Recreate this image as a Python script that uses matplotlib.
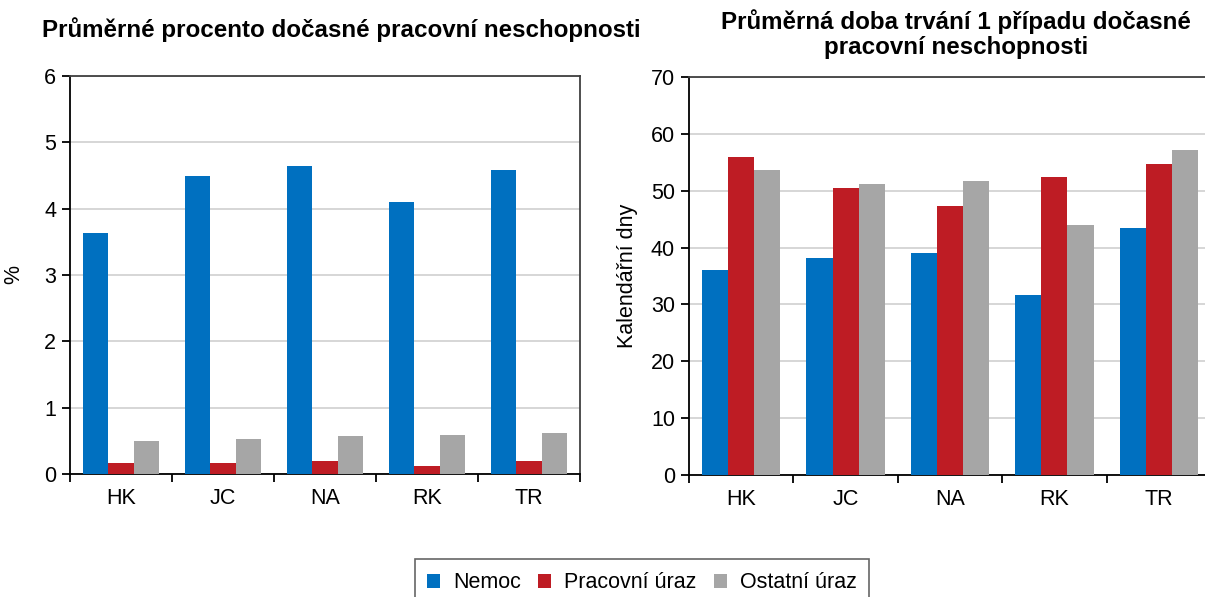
import numpy as np
import matplotlib
matplotlib.use("Agg")
import matplotlib.pyplot as plt
from matplotlib.patches import Patch

plt.rcParams['font.family'] = ['Liberation Sans', 'DejaVu Sans']

# data
regions = ["HK", "JC", "NA", "RK", "TR"]
series = ["Nemoc", "Pracovní úraz", "Ostatní úraz"]
colors = ["#0070C0", "#BE1C24", "#A6A6A6"]

pct_nemoc = [3.63, 4.49, 4.65, 4.10, 4.59]
pct_pracovni = [0.16, 0.17, 0.20, 0.12, 0.20]
pct_ostatni = [0.49, 0.53, 0.57, 0.59, 0.62]

days_nemoc = [36.0, 38.1, 39.1, 31.7, 43.5]
days_pracovni = [56.0, 50.5, 47.3, 52.4, 54.7]
days_ostatni = [53.6, 51.1, 51.7, 44.0, 57.1]

title_left = "Průměrné procento dočasné pracovní neschopnosti"
title_right = "Průměrná doba trvání 1 případu dočasné\npracovní neschopnosti"

FS = 15.5

fig = plt.figure(figsize=(12.05, 5.97), dpi=100)
ax1 = fig.add_axes([70 / 1205, 123 / 597, 510 / 1205, 398 / 597])
ax2 = fig.add_axes([689 / 1205, 122 / 597, 522 / 1205, 398 / 597])


def draw_bars(ax, values, ymax, ystep):
    x = np.arange(len(regions))
    w = 0.25
    for k, vals in enumerate(values):
        ax.bar(x + (k - 1) * w, vals, width=w, color=colors[k], zorder=3)
    ax.set_xlim(-0.5, len(regions) - 0.5)
    ax.set_ylim(0, ymax)
    ax.set_yticks(np.arange(0, ymax + ystep / 2, ystep))
    # ticks at group boundaries, labels in the middle
    ax.set_xticks(np.arange(-0.5, len(regions)), labels=[])
    ax.set_xticks(x, labels=regions, minor=True)
    ax.tick_params(axis="x", which="minor", length=0, labelsize=FS, pad=10)
    ax.tick_params(axis="x", which="major", length=6, width=1.3, direction="out")
    ax.tick_params(axis="y", length=6, width=1.3, labelsize=FS, pad=4)
    ax.grid(axis="y", color="#d0d0d0", linewidth=1.2, zorder=0)
    for s in ax.spines.values():
        s.set_linewidth(1.3)
        s.set_color("black")
    ax.spines["top"].set_color("#404040")
    ax.spines["right"].set_color("#404040")


draw_bars(ax1, [pct_nemoc, pct_pracovni, pct_ostatni], 6, 1)
draw_bars(ax2, [days_nemoc, days_pracovni, days_ostatni], 70, 10)

ax1.set_ylabel("%", fontsize=FS, labelpad=14)
ax2.set_ylabel("Kalendářní dny", fontsize=FS, labelpad=9)

fig.text(341 / 1205, 1 - 30 / 597, title_left, ha="center", va="center",
         fontsize=17.4, fontweight="bold")
fig.text(956 / 1205, 1 - 34 / 597, title_right, ha="center", va="center",
         fontsize=17.4, fontweight="bold", linespacing=1.1)

handles = [Patch(facecolor=c, label=s) for c, s in zip(colors, series)]
leg = fig.legend(handles=handles, loc="upper center", ncol=3,
                 bbox_to_anchor=(642 / 1205, 1 - 553 / 597), fontsize=FS,
                 frameon=True, fancybox=False, edgecolor="#404040",
                 handlelength=0.6, handleheight=0.6, handletextpad=0.6,
                 columnspacing=0.8, borderpad=0.6, borderaxespad=0.3)
leg.get_frame().set_linewidth(1.2)

fig.savefig("out.png", dpi=100)
